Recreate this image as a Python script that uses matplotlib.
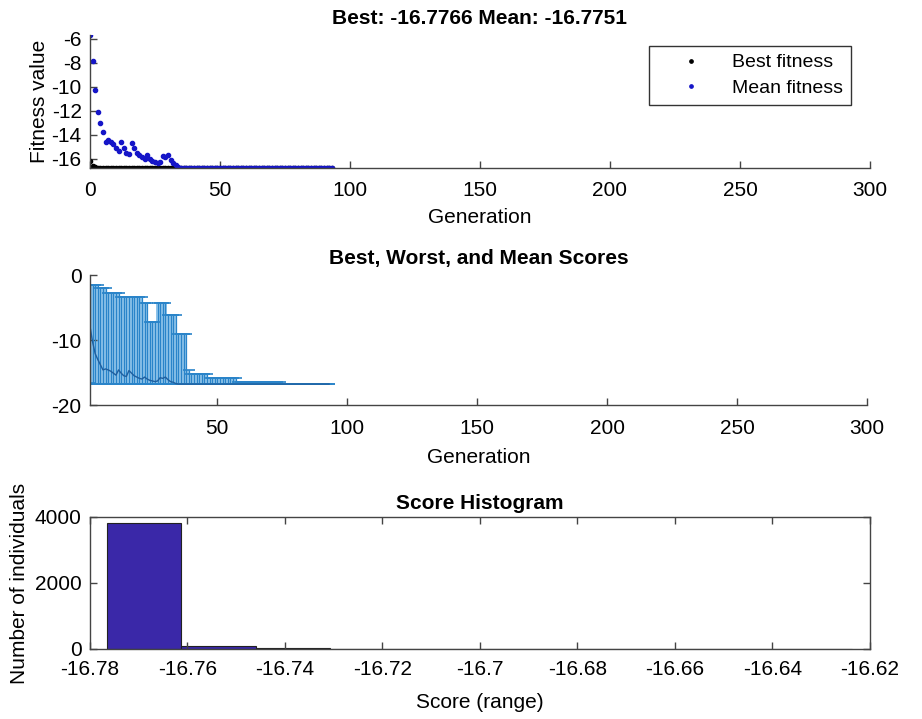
import numpy as np
import matplotlib
matplotlib.use("Agg")
import matplotlib.pyplot as plt

plt.rcParams['font.family'] = ['Liberation Sans', 'DejaVu Sans']
plt.rcParams['font.size'] = 15
plt.rcParams['axes.unicode_minus'] = False

# --- data ---
# top panel: generations 0..93
generations = list(range(0, 94))
mean_fitness = [-5.7, -7.9, -10.3, -12.1, -13.0, -13.8, -14.6, -14.45, -14.6, -14.8,
                -15.1, -15.4, -14.6, -15.1, -15.5, -15.6, -14.7, -15.1, -15.5, -15.7,
                -15.9, -16.0, -15.7, -16.0, -16.2, -16.3, -16.4, -16.3, -15.8, -15.9,
                -15.7, -16.1, -16.4, -16.5, -16.7] + [-16.775] * 59
best_fitness = [-16.2, -16.6, -16.7] + [-16.7766] * 91

# middle panel: generations 1..93, worst score per generation (runs of equal values)
worst_runs = [(-1.6, 4), (-2.0, 3), (-2.8, 5), (-3.4, 9), (-4.3, 2), (-7.2, 3),
              (-4.3, 4), (-6.2, 4), (-9.0, 4), (-14.6, 1), (-15.2, 7), (-15.9, 11),
              (-16.4, 17), (-16.75, 19)]
worst_scores = [v for v, n in worst_runs for _ in range(n)]

# histogram of final scores
hist_lo, hist_hi = -16.7766, -16.6236
hist_counts = [3820, 75, 30, 10, 6, 4, 3, 2, 1, 1]
hist_ticks = [-16.78, -16.76, -16.74, -16.72, -16.7, -16.68, -16.66, -16.64, -16.62]
hist_ticklabels = ['-16.78', '-16.76', '-16.74', '-16.72', '-16.7', '-16.68',
                   '-16.66', '-16.64', '-16.62']

axis_col = '#444444'

fig = plt.figure(figsize=(9.22, 7.19), dpi=100)


def style(ax, box=False, xpad=9):
    for s in ['left', 'bottom', 'top', 'right']:
        ax.spines[s].set_color(axis_col)
        ax.spines[s].set_linewidth(1.0)
    if not box:
        ax.spines['top'].set_visible(False)
        ax.spines['right'].set_visible(False)
    ax.tick_params(direction='in', length=5, width=1.0, color=axis_col,
                   top=box, right=box, labelsize=15)
    ax.tick_params(axis='y', pad=6)
    ax.tick_params(axis='x', pad=xpad)


# top: best and mean fitness
ax1 = fig.add_axes([0.0976, 0.7663, 0.846, 0.185])
ax1.plot(generations, best_fitness, '.', color='black', ms=6, label='Best fitness')
ax1.plot(generations, mean_fitness, '.', color='#1515c8', ms=6, label='Mean fitness')
ax1.set_xlim(0, 300)
ax1.set_ylim(-16.78, -5.7)
ax1.set_xticks([0, 50, 100, 150, 200, 250, 300])
ax1.set_yticks([-6, -8, -10, -12, -14, -16])
ax1.set_xlabel('Generation', fontsize=15, labelpad=6)
ax1.set_ylabel('Fitness value', fontsize=15, labelpad=2)
ax1.set_title('Best: -16.7766 Mean: -16.7751', fontsize=15, fontweight='bold', pad=8)
style(ax1, xpad=9)
leg = ax1.legend(loc='upper right', bbox_to_anchor=(0.9756, 0.917), fontsize=14,
                 fancybox=False, edgecolor='#333333', framealpha=1,
                 borderaxespad=0, handlelength=3.6, handletextpad=0.3,
                 borderpad=0.4, labelspacing=0.4, markerscale=0.8)
leg.get_frame().set_linewidth(1.0)

# middle: best, worst and mean scores
ax2 = fig.add_axes([0.0976, 0.4367, 0.8427, 0.1808])
gens_mid = generations[1:]
best_mid = np.array(best_fitness[1:])
mean_mid = np.array(mean_fitness[1:])
worst_mid = np.array(worst_scores)
ax2.fill_between(gens_mid, best_mid, worst_mid, step='mid', color='#8ec3ea', lw=0)
ax2.errorbar(gens_mid, mean_mid, yerr=[mean_mid - best_mid, worst_mid - mean_mid],
             fmt='none', ecolor='#2a84c9', elinewidth=0.9, capsize=4, capthick=1.2)
ax2.plot(gens_mid, mean_mid, '-', color='#1f5f9f', lw=1.0)
ax2.set_xlim(1, 300)
ax2.set_ylim(-20, 0)
ax2.set_xticks([50, 100, 150, 200, 250, 300])
ax2.set_yticks([0, -10, -20])
ax2.set_xlabel('Generation', fontsize=15, labelpad=7)
ax2.set_title('Best, Worst, and Mean Scores', fontsize=15, fontweight='bold', pad=8)
style(ax2, xpad=10)

# bottom: score histogram
ax3 = fig.add_axes([0.0976, 0.0974, 0.846, 0.1836])
edges = np.linspace(hist_lo, hist_hi, len(hist_counts) + 1)
ax3.bar(edges[:-1], hist_counts, width=np.diff(edges), align='edge',
        color='#3a28a8', edgecolor='#222222', linewidth=0.8)
ax3.set_xlim(-16.78, -16.62)
ax3.set_ylim(0, 4000)
ax3.set_xticks(hist_ticks)
ax3.set_xticklabels(hist_ticklabels)
ax3.set_yticks([0, 2000, 4000])
ax3.set_xlabel('Score (range)', fontsize=15, labelpad=10)
ax3.set_ylabel('Number of individuals', fontsize=15, labelpad=4)
ax3.set_title('Score Histogram', fontsize=15, fontweight='bold', pad=6)
style(ax3, box=True, xpad=8)

fig.savefig('out.png', dpi=100)
